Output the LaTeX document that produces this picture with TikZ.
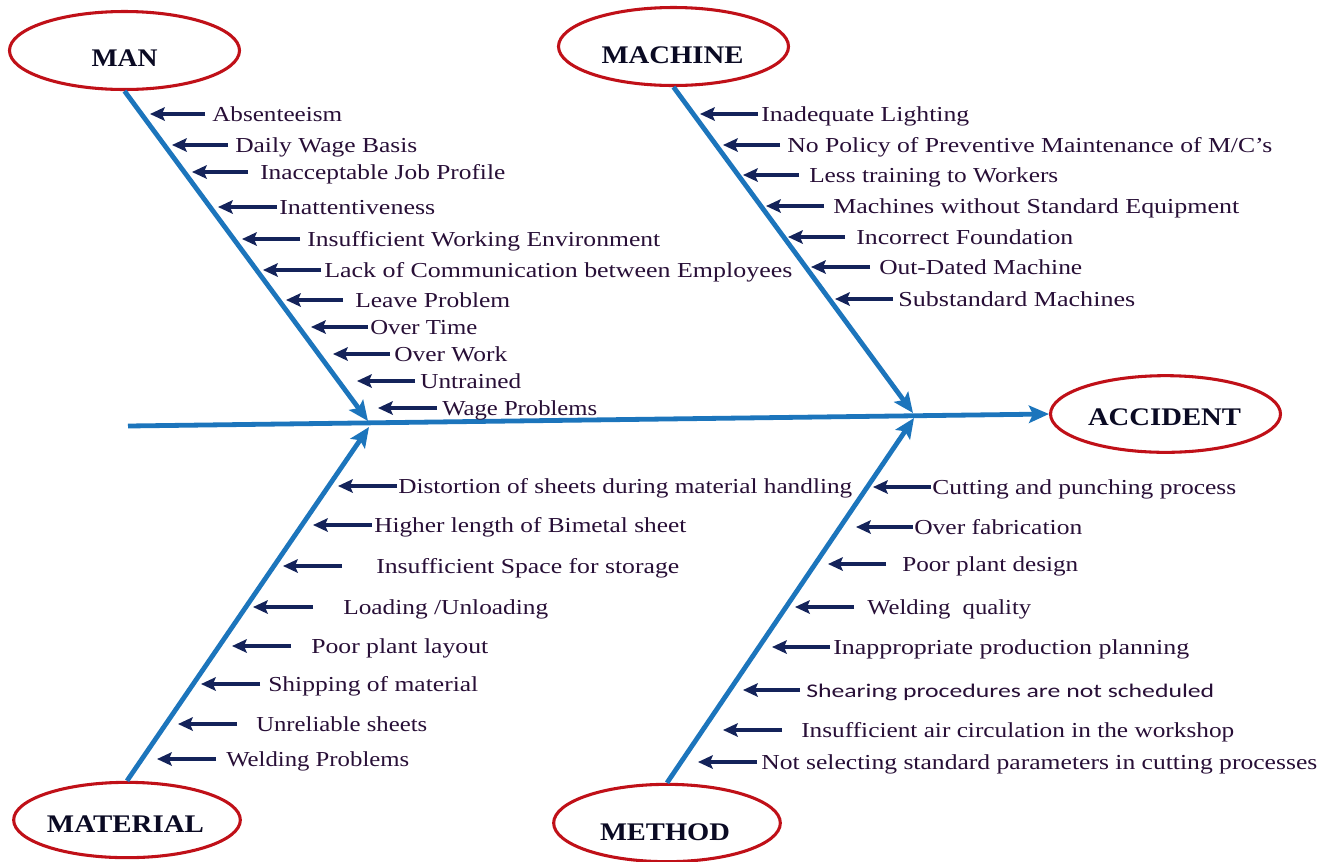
\documentclass[tikz,border=0pt]{standalone}
\usepackage{fontspec}
\setmainfont{Liberation Serif}
\newfontfamily\sansf{Carlito}
\usetikzlibrary{arrows.meta,shapes.geometric}
\definecolor{bonec}{RGB}{28,117,188}
\definecolor{arrc}{RGB}{20,35,90}
\definecolor{txtc}{RGB}{40,15,55}
\definecolor{ttlc}{RGB}{10,10,35}
\definecolor{ovalc}{RGB}{192,16,24}
\newdimen\fitdim
\newcommand\fitw[2]{\fitdim=#1pt\fitdim=0.75\fitdim\resizebox{\fitdim}{\height}{#2}}
\tikzset{
  oval/.style={ellipse, draw=ovalc, line width=2.3pt, inner sep=0pt, fill=white},
  ttl/.style={anchor=base, inner sep=0pt, text=ttlc, font=\fontsize{19pt}{19pt}\selectfont\bfseries},
  lab/.style={anchor=base west, inner sep=0pt, text=txtc, font=\fontsize{16pt}{16pt}\selectfont},
  sub/.style={draw=arrc, line width=2.6pt, -{Stealth[length=11pt,width=10pt,inset=2pt]}},
  bone/.style={draw=bonec, line width=3.6pt, -{Stealth[length=15pt,width=13pt,inset=3pt]}}
}
\newcommand\cause[7]{%
  \coordinate (#1-tip) at (#2,#5);
  \coordinate (#1-tail) at (#3,#5);
  \node[lab] (#1) at (#4,#5+7.5) {\fitw{#6}{#7}};
  \draw[sub] (#1-tail) -- (#1-tip);}
\begin{document}
\begin{tikzpicture}[x=0.75pt,y=-0.75pt]
\useasboundingbox (0,0) rectangle (1334,861);
\fill[white] (0,0) rectangle (1334,861);

% hubs and spine
\coordinate (h1) at (368,421);
\coordinate (h2) at (369,427);
\coordinate (h3) at (913,413);
\coordinate (h4) at (914,418);
\coordinate (spinestart) at (128,426);

% ovals
\node[oval, minimum width=172.5pt, minimum height=58.5pt] (man) at (124.5,50.5) {};
\node[oval, minimum width=172.5pt, minimum height=58.5pt] (machine) at (673.5,46.5) {};
\node[oval, minimum width=172.5pt, minimum height=57.5pt] (accident) at (1165.5,414) {};
\node[oval, minimum width=170pt, minimum height=56.5pt] (material) at (127,820) {};
\node[oval, minimum width=170pt, minimum height=58pt] (method) at (667,823) {};

\node[ttl] (manT) at (124.5,66) {\fitw{66}{MAN}};
\node[ttl] (machineT) at (672.5,63) {\fitw{142}{MACHINE}};
\node[ttl] (accidentT) at (1164.5,425) {\fitw{153}{ACCIDENT}};
\node[ttl] (materialT) at (125.5,832) {\fitw{157}{MATERIAL}};
\node[ttl] (methodT) at (665,840) {\fitw{130}{METHOD}};

% bones
\draw[bone] (spinestart) -- (accident.west);
\draw[bone] (man.south) -- (h1);
\draw[bone] (machine.south) -- (h3);
\draw[bone] (material.north) -- (h2);
\draw[bone] (method.north) -- (h4);

% MAN causes
\cause{c1}{150}{205}{212}{114}{130}{Absenteeism}
\cause{c2}{172}{228}{235}{145}{182}{Daily Wage Basis}
\cause{c3}{192}{248}{260}{172}{245}{Inacceptable Job Profile}
\cause{c4}{218}{277}{279}{207}{156}{Inattentiveness}
\cause{c5}{242}{300}{307}{239}{353}{Insufficient Working Environment}
\cause{c6}{263}{321}{324}{270}{468}{Lack of Communication between Employees}
\cause{c7}{286}{343}{355}{300}{155}{Leave Problem}
\cause{c8}{311}{368}{370}{327}{107}{Over Time}
\cause{c9}{333}{390}{394}{354}{113}{Over Work}
\cause{c10}{357}{415}{420}{381}{101}{Untrained}
\cause{c11}{378}{437}{442}{408}{155}{Wage Problems}

% MACHINE causes
\cause{d1}{700}{758}{761}{114}{208}{Inadequate Lighting}
\cause{d2}{723}{780}{787}{145}{485}{No Policy of Preventive Maintenance of M/C’s}
\cause{d3}{743}{799}{809}{175}{249}{Less training to Workers}
\cause{d4}{766}{824}{833}{206}{406}{Machines without Standard Equipment}
\cause{d5}{788}{845}{856}{237}{217}{Incorrect Foundation}
\cause{d6}{811}{870}{879}{267}{203}{Out-Dated Machine}
\cause{d7}{835}{893}{898}{299}{237}{Substandard Machines}

% MATERIAL causes
\cause{e1}{338}{397}{398}{486}{454}{Distortion of sheets during material handling}
\cause{e2}{313}{372}{374}{525}{312}{Higher length of Bimetal sheet}
\cause{e3}{283}{342}{376}{566}{303}{Insufficient Space for storage}
\cause{e4}{253}{313}{343}{607}{205}{Loading /Unloading}
\cause{e5}{232}{291}{311}{646}{177}{Poor plant layout}
\cause{e6}{201}{260}{268}{684}{210}{Shipping of material}
\cause{e7}{178}{237}{256}{724}{171}{Unreliable sheets}
\cause{e8}{157}{216}{226}{759}{183}{Welding Problems}

% METHOD causes
\cause{f1}{873}{931}{932}{487}{304}{Cutting and punching process}
\cause{f2}{856}{913}{914}{527}{168}{Over fabrication}
\cause{f3}{828}{886}{902}{564}{176}{Poor plant design}
\cause{f4}{795}{854}{867}{607}{164}{Welding\ \ quality}
\cause{f5}{772}{830}{833}{647}{356}{Inappropriate production planning}
\cause{f6}{743}{800}{806}{690}{408}{{\sansf\fontsize{14.5pt}{14.5pt}\selectfont Shearing procedures are not scheduled}}
\cause{f7}{723}{782}{801}{730}{433}{Insufficient air circulation in the workshop}
\cause{f8}{698}{757}{761}{762}{556}{Not selecting standard parameters in cutting processes}
\end{tikzpicture}
\end{document}
